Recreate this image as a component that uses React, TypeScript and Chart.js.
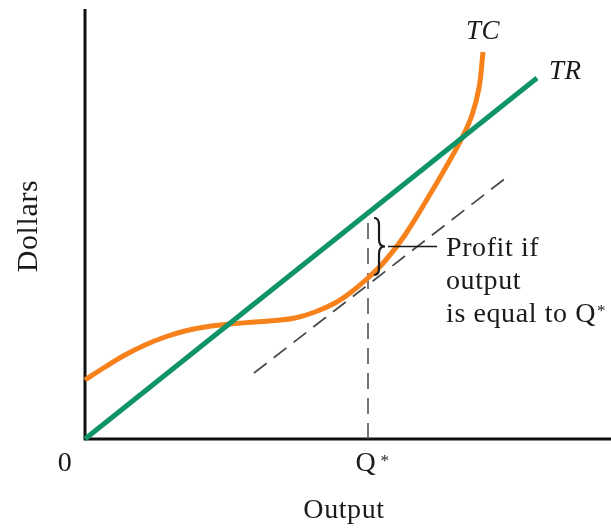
import React, { useEffect, useRef } from "react";
import { Chart, registerables } from "chart.js";

Chart.register(...registerables);

// Output (x) and dollars (y) in chart units
const tcX = [0, 20, 40, 60, 80, 100, 120, 145, 170, 190, 210, 230, 250, 265, 283, 300, 320, 347, 365, 377, 387, 394, 398];
const tcY = [59, 72, 84, 94, 102, 108, 112, 115, 117, 118.5, 121, 127, 136, 146, 161, 178, 204, 248, 279, 301, 324, 351, 387];
const trX = [0, 452];
const trY = [0, 361];
const tangentX = [169, 426];
const tangentY = [66, 265];
const qStar = 283;
const qLineY = [0, 222];
const profitTop = 221;
const profitBottom = 164;
const xMax = 526;
const yMax = 430;

const FONT = "'Liberation Serif', 'DejaVu Serif', serif";

const pts = (xs: number[], ys: number[]) => xs.map((x, i) => ({ x, y: ys[i] }));

const annotations = {
  id: "annotations",
  beforeDatasetsDraw(chart: any) {
    const { ctx, chartArea } = chart;
    ctx.save();
    ctx.strokeStyle = "#111";
    ctx.lineWidth = 3;
    ctx.lineCap = "butt";
    ctx.beginPath();
    ctx.moveTo(chartArea.left, chartArea.top);
    ctx.lineTo(chartArea.left, chartArea.bottom);
    ctx.lineTo(chartArea.right, chartArea.bottom);
    ctx.stroke();
    ctx.restore();
  },
  afterDatasetsDraw(chart: any) {
    const { ctx } = chart;
    const xs = chart.scales.x;
    const ys = chart.scales.y;
    ctx.save();
    ctx.fillStyle = "#1a1a1a";
    ctx.strokeStyle = "#1a1a1a";
    ctx.textBaseline = "alphabetic";
    const setFont = (size: number, italic = false) => {
      ctx.font = `${italic ? "italic " : ""}${size}px ${FONT}`;
    };
    try { (ctx as any).letterSpacing = "0.6px"; } catch (e) {}

    // Curve labels
    setFont(27, true);
    ctx.textAlign = "center";
    ctx.fillText("TC", xs.getPixelForValue(tcX[tcX.length - 1]), 39);
    ctx.textAlign = "left";
    ctx.fillText("TR", xs.getPixelForValue(trX[1]) + 12, 79);

    // Axis labels
    setFont(28);
    ctx.textAlign = "center";
    ctx.fillText("0", xs.getPixelForValue(0) - 20, 471);
    const qx = xs.getPixelForValue(qStar);
    ctx.fillText("Q", qx - 2, 471);
    setFont(17);
    ctx.fillText("*", qx + 17, 466);
    setFont(28);
    ctx.fillText("Output", qx - 24, 518);

    ctx.save();
    ctx.translate(37, 226);
    ctx.rotate(-Math.PI / 2);
    setFont(30);
    ctx.textAlign = "center";
    ctx.fillText("Dollars", 0, 0);
    ctx.restore();

    // Brace
    const yT = ys.getPixelForValue(profitTop);
    const yB = ys.getPixelForValue(profitBottom);
    const yM = (yT + yB) / 2;
    const x0 = qx + 6;
    const xm = x0 + 5;
    const x1 = x0 + 11;
    ctx.lineWidth = 2.2;
    ctx.beginPath();
    ctx.moveTo(x0, yT);
    ctx.quadraticCurveTo(xm, yT, xm, yT + 7);
    ctx.lineTo(xm, yM - 7);
    ctx.quadraticCurveTo(xm, yM, x1, yM);
    ctx.quadraticCurveTo(xm, yM, xm, yM + 7);
    ctx.lineTo(xm, yB - 7);
    ctx.quadraticCurveTo(xm, yB, x0, yB);
    ctx.stroke();

    // Leader line
    ctx.lineWidth = 1.5;
    ctx.beginPath();
    ctx.moveTo(x1 + 3, yM);
    ctx.lineTo(x1 + 52, yM);
    ctx.stroke();

    // Callout text
    setFont(28);
    ctx.textAlign = "left";
    const tx = x1 + 61;
    ctx.fillText("Profit if", tx, 256);
    ctx.fillText("output", tx, 289);
    const s = "is equal to Q";
    ctx.fillText(s, tx, 322);
    const w = ctx.measureText(s).width;
    setFont(17);
    ctx.fillText("*", tx + w + 1, 316);
    ctx.restore();
  },
};

export default function App() {
  const ref = useRef<HTMLCanvasElement | null>(null);
  useEffect(() => {
    if (!ref.current) return;
    const chart = new Chart(ref.current, {
      type: "scatter",
      data: {
        datasets: [
          {
            label: "TR",
            data: pts(trX, trY),
            showLine: true,
            borderColor: "#0e9468",
            borderWidth: 5,
            pointRadius: 0,
            order: 0,
            clip: false,
          } as any,
          {
            label: "TC",
            data: pts(tcX, tcY),
            showLine: true,
            borderColor: "#f7811b",
            borderWidth: 5,
            pointRadius: 0,
            tension: 0.4,
            order: 1,
            clip: false,
          } as any,
          {
            label: "tangent",
            data: pts(tangentX, tangentY),
            showLine: true,
            borderColor: "#4a4a4a",
            borderWidth: 1.8,
            borderDash: [16, 9],
            pointRadius: 0,
            order: 2,
            clip: false,
          } as any,
          {
            label: "Q*",
            data: pts([qStar, qStar], qLineY),
            showLine: true,
            borderColor: "#4a4a4a",
            borderWidth: 1.5,
            borderDash: [16, 9],
            pointRadius: 0,
            order: 3,
            clip: false,
          } as any,
        ],
      },
      options: {
        responsive: false,
        animation: false,
        events: [],
        layout: { padding: { left: 85, top: 9, right: 0, bottom: 89 } },
        plugins: {
          legend: { display: false },
          tooltip: { enabled: false },
          title: { display: false },
        },
        scales: {
          x: { type: "linear", min: 0, max: xMax, display: false },
          y: { type: "linear", min: 0, max: yMax, display: false },
        },
      },
      plugins: [annotations],
    });
    return () => chart.destroy();
  }, []);
  return (
    <div style={{ position: "absolute", left: 0, top: 0, width: 611, height: 528, background: "#fff" }}>
      <canvas ref={ref} width={611} height={528} style={{ width: 611, height: 528, display: "block" }} />
    </div>
  );
}
